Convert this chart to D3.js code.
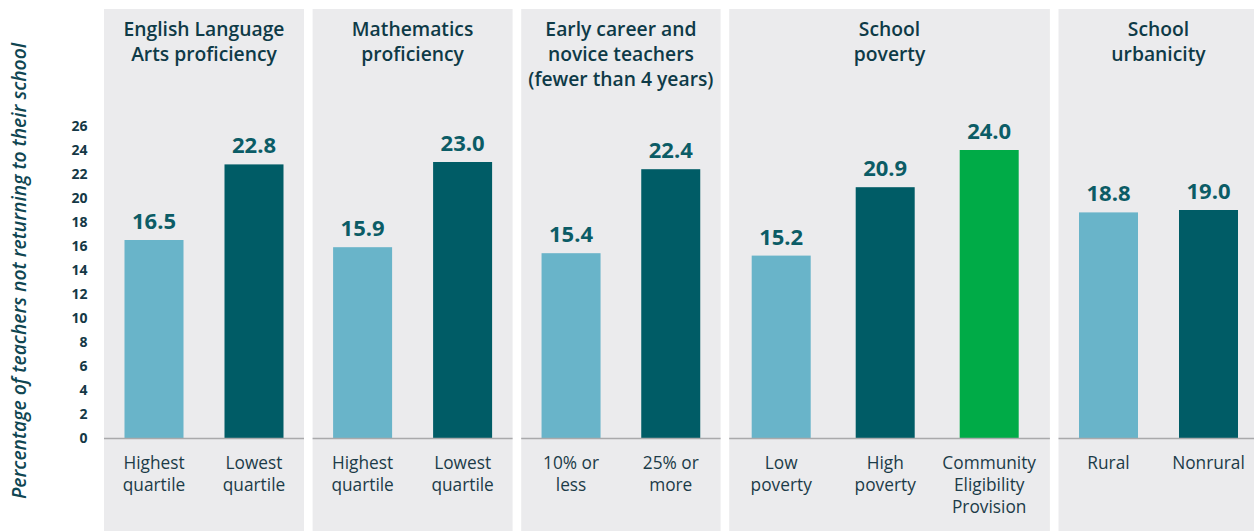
<!DOCTYPE html>
<html>
<head>
<meta charset="utf-8">
<script src="https://cdn.jsdelivr.net/npm/d3@7"></script>
<style>
  html, body { margin: 0; padding: 0; background: #fff; }
  svg { display: block; font-family: "Open Sans", "Noto Sans", sans-serif; }
</style>
</head>
<body>
<div id="chart"></div>
<script>
// data
const panelTitles = [
  ['English Language', 'Arts proficiency'],
  ['Mathematics', 'proficiency'],
  ['Early career and', 'novice teachers', '(fewer than 4 years)'],
  ['School', 'poverty'],
  ['School', 'urbanicity']
];
const categories = [
  [['Highest', 'quartile'], ['Lowest', 'quartile']],
  [['Highest', 'quartile'], ['Lowest', 'quartile']],
  [['10% or', 'less'], ['25% or', 'more']],
  [['Low', 'poverty'], ['High', 'poverty'], ['Community', 'Eligibility', 'Provision']],
  [['Rural'], ['Nonrural']]
];
const values = [
  [16.5, 22.8],
  [15.9, 23.0],
  [15.4, 22.4],
  [15.2, 20.9, 24.0],
  [18.8, 19.0]
];
const yTicks = [0, 2, 4, 6, 8, 10, 12, 14, 16, 18, 20, 22, 24, 26];
const yTitle = 'Percentage of teachers not returning to their school';

const barColors = ['#69b4c9', '#005c66', '#00ab47'];

const W = 1254, H = 531;
const panelLeft = 104, panelTop = 9, panelGap = 8.6;
const panelWidths = [200, 200, 199.4, 320.7, 200];
const innerWidths = [200, 200, 199.4, 312, 200];

const svg = d3.select('#chart').append('svg')
  .attr('width', W)
  .attr('height', H);

const y = d3.scaleLinear().domain([0, 26]).range([438, 126]);

// y axis labels
svg.append('g')
  .selectAll('text')
  .data(yTicks)
  .enter()
  .append('text')
  .attr('x', 87.5)
  .attr('y', d => y(d) + 5)
  .attr('text-anchor', 'end')
  .attr('font-size', 14)
  .attr('font-weight', 700)
  .attr('fill', '#143846')
  .text(d => d);

svg.append('text')
  .attr('transform', `translate(26,${271}) rotate(-90)`)
  .attr('text-anchor', 'middle')
  .attr('font-size', 19.3)
  .attr('font-weight', 600)
  .attr('font-style', 'italic')
  .attr('fill', '#0f4652')
  .text(yTitle);

let px = panelLeft;
values.forEach((vals, i) => {
  const pw = panelWidths[i];
  const g = svg.append('g').attr('transform', `translate(${px},0)`);
  px += pw + panelGap;

  g.append('rect')
    .attr('x', 0)
    .attr('y', panelTop)
    .attr('width', pw)
    .attr('height', H - panelTop)
    .attr('fill', '#ebebed');

  // title
  g.append('text')
    .attr('text-anchor', 'middle')
    .attr('font-size', 19.3)
    .attr('font-weight', 600)
    .attr('fill', '#0e3a47')
    .selectAll('tspan')
    .data(panelTitles[i])
    .enter()
    .append('tspan')
    .attr('x', pw / 2)
    .attr('y', (d, k) => 36 + k * 25)
    .text(d => d);

  const x = d3.scaleBand()
    .domain(d3.range(vals.length))
    .range([0, innerWidths[i]])
    .paddingInner(0.41)
    .paddingOuter(0.205);
  const bw = 59;
  const cx = k => x(k) + x.bandwidth() / 2;

  g.selectAll('rect.bar')
    .data(vals)
    .enter()
    .append('rect')
    .attr('class', 'bar')
    .attr('x', (d, k) => cx(k) - bw / 2)
    .attr('y', d => y(d))
    .attr('width', bw)
    .attr('height', d => y(0) - y(d))
    .attr('fill', (d, k) => barColors[k]);

  g.append('line')
    .attr('x1', 0)
    .attr('x2', pw)
    .attr('y1', y(0) + 0.5)
    .attr('y2', y(0) + 0.5)
    .attr('stroke', '#a9a9ab')
    .attr('stroke-width', 1.5);

  g.selectAll('text.val')
    .data(vals)
    .enter()
    .append('text')
    .attr('class', 'val')
    .attr('x', (d, k) => cx(k))
    .attr('y', d => y(d) - 11)
    .attr('text-anchor', 'middle')
    .attr('font-size', 22)
    .attr('font-weight', 700)
    .attr('fill', '#0b5c66')
    .text(d => d.toFixed(1));

  categories[i].forEach((lines, k) => {
    g.append('text')
      .attr('text-anchor', 'middle')
      .attr('font-size', 17.3)
      .attr('fill', '#1b3b48')
      .selectAll('tspan')
      .data(lines)
      .enter()
      .append('tspan')
      .attr('x', cx(k))
      .attr('y', (d, j) => 469 + j * 22)
      .text(d => d);
  });
});
</script>
</body>
</html>
